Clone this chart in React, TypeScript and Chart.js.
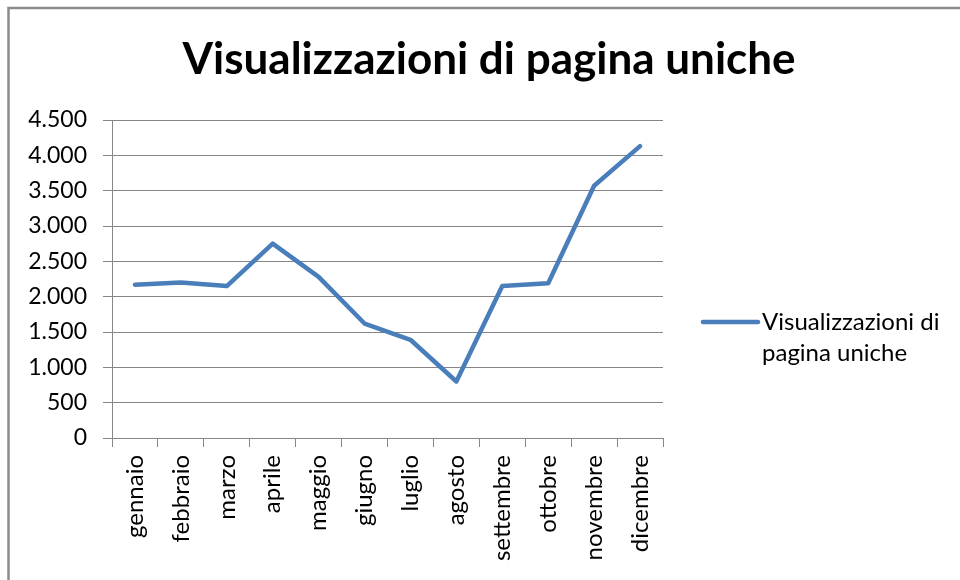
import { useEffect, useRef } from "react";
import { Chart, registerables } from "chart.js";

Chart.register(...registerables);

const TITLE = "Visualizzazioni di pagina uniche";
const SERIES_LABEL = "Visualizzazioni di pagina uniche";
const MONTHS = [
  "gennaio",
  "febbraio",
  "marzo",
  "aprile",
  "maggio",
  "giugno",
  "luglio",
  "agosto",
  "settembre",
  "ottobre",
  "novembre",
  "dicembre",
];
const VIEWS = [2170, 2200, 2150, 2750, 2280, 1620, 1390, 800, 2150, 2190, 3570, 4130];
const Y_TICKS = [0, 500, 1000, 1500, 2000, 2500, 3000, 3500, 4000, 4500];

const FONT = "Lato, 'Noto Sans', sans-serif";
const GRID = "#868686";
const LINE = "#4A7EBB";
const TEXT = "#000000";

function fmt(v: number): string {
  return String(v).replace(/\B(?=(\d{3})+(?!\d))/g, ".");
}

const framePlugin = {
  id: "frame",
  beforeDraw(chart: any) {
    const { ctx, width, height } = chart;
    ctx.save();
    ctx.fillStyle = "#ffffff";
    ctx.fillRect(0, 0, width, height);
    ctx.strokeStyle = "#8c8c8c";
    ctx.lineWidth = 2.5;
    ctx.beginPath();
    ctx.moveTo(8.5, height);
    ctx.lineTo(8.5, 8);
    ctx.lineTo(width, 8);
    ctx.stroke();
    ctx.restore();
  },
};

const titlePlugin = {
  id: "excelTitle",
  afterDraw(chart: any) {
    const { ctx } = chart;
    const text = chart.options.plugins.excelTitle.text;
    ctx.save();
    ctx.font = `bold 44px ${FONT}`;
    ctx.fillStyle = TEXT;
    ctx.textAlign = "center";
    ctx.textBaseline = "middle";
    ctx.fillText(text, 489, 60);
    ctx.restore();
  },
};

const sideLegendPlugin = {
  id: "sideLegend",
  afterDraw(chart: any) {
    const { ctx, chartArea } = chart;
    const ds = chart.data.datasets[0];
    const x0 = chartArea.right + 40;
    const x1 = x0 + 55;
    const y0 = chartArea.bottom - 116;
    ctx.save();
    ctx.strokeStyle = ds.borderColor;
    ctx.lineWidth = 4.5;
    ctx.lineCap = "round";
    ctx.beginPath();
    ctx.moveTo(x0, y0);
    ctx.lineTo(x1, y0);
    ctx.stroke();
    ctx.font = `24px ${FONT}`;
    ctx.fillStyle = TEXT;
    ctx.textBaseline = "middle";
    ctx.textAlign = "left";
    const tx = x1 + 4;
    const maxW = chart.width - tx - 4;
    const words = String(ds.label).split(" ");
    const lines: string[] = [];
    let cur = "";
    for (const w of words) {
      const test = cur ? cur + " " + w : w;
      if (ctx.measureText(test).width > maxW && cur) {
        lines.push(cur);
        cur = w;
      } else {
        cur = test;
      }
    }
    if (cur) lines.push(cur);
    lines.forEach((l, i) => ctx.fillText(l, tx, y0 + i * 31));
    ctx.restore();
  },
};

export default function App() {
  const ref = useRef<HTMLCanvasElement | null>(null);

  useEffect(() => {
    if (!ref.current) return;
    const chart = new Chart(ref.current, {
      type: "line",
      data: {
        labels: MONTHS,
        datasets: [
          {
            label: SERIES_LABEL,
            data: VIEWS,
            borderColor: LINE,
            backgroundColor: LINE,
            borderWidth: 4.5,
            pointRadius: 0,
            pointHoverRadius: 0,
            tension: 0,
            borderJoinStyle: "round",
            borderCapStyle: "round",
          },
        ],
      },
      options: {
        responsive: false,
        animation: false,
        events: [],
        layout: { padding: { left: 0, right: 297, top: 120, bottom: 0 } },
        plugins: {
          legend: { display: false },
          tooltip: { enabled: false },
          title: { display: false },
          excelTitle: { text: TITLE },
        } as any,
        scales: {
          x: {
            type: "category",
            offset: true,
            grid: {
              offset: true,
              drawOnChartArea: false,
              drawTicks: true,
              tickLength: 9,
              color: GRID,
            },
            border: { display: true, color: GRID },
            ticks: {
              color: TEXT,
              font: { family: FONT, size: 24 },
              maxRotation: 90,
              minRotation: 90,
              padding: 8,
              autoSkip: false,
            },
            afterFit(scale: any) {
              scale.height = 142;
            },
          },
          y: {
            min: 0,
            max: 4500,
            afterBuildTicks(scale: any) {
              scale.ticks = Y_TICKS.map((v) => ({ value: v }));
            },
            grid: { color: GRID, tickLength: 9, drawTicks: true },
            border: { display: true, color: GRID },
            ticks: {
              color: TEXT,
              font: { family: FONT, size: 23 },
              padding: 16,
              callback: (v: any) => fmt(Number(v)),
            },
            afterFit(scale: any) {
              scale.width = 112;
            },
          },
        },
      },
      plugins: [framePlugin, titlePlugin, sideLegendPlugin],
    });
    return () => chart.destroy();
  }, []);

  return (
    <div style={{ position: "absolute", left: 0, top: 0, width: 960, height: 580 }}>
      <canvas ref={ref} width={960} height={580} style={{ display: "block" }} />
    </div>
  );
}
